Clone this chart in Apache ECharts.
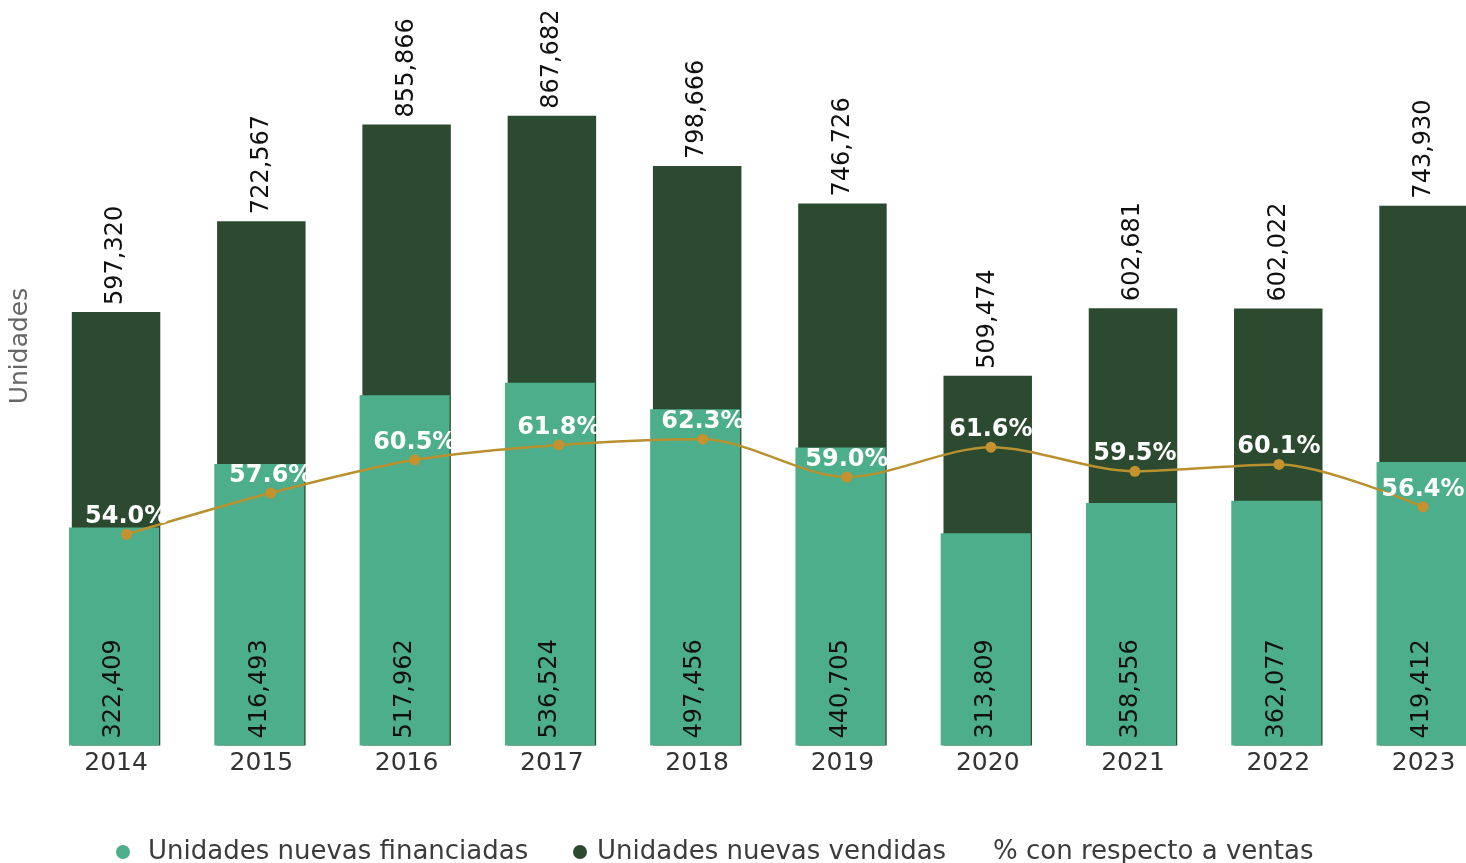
<!DOCTYPE html>
<html>
<head>
<meta charset="utf-8">
<script src="https://cdn.jsdelivr.net/npm/echarts/dist/echarts.min.js"></script>
<style>
html,body{margin:0;padding:0;background:#ffffff;}
#chart{width:1466px;height:863px;}
</style>
</head>
<body>
<div id="chart"></div>
<script>
const categories = ['2014','2015','2016','2017','2018','2019','2020','2021','2022','2023'];
const vendidas = [597320,722567,855866,867682,798666,746726,509474,602681,602022,743930];
const financiadas = [322409,416493,517962,536524,497456,440705,313809,358556,362077,419412];
const porcentaje = [54.0,57.6,60.5,61.8,62.3,59.0,61.6,59.5,60.1,56.4];

const nameFin = 'Unidades nuevas financiadas';
const nameVen = 'Unidades nuevas vendidas';
const namePct = '% con respecto a ventas';

const FONT = 'DejaVu Sans';
const DARK = '#2c4a30';
const LIGHT = '#4cae8a';
const GOLD = '#b8902e';

const chart = echarts.init(document.getElementById('chart'), null, {renderer:'canvas'});
const gTop = 19.8, gH = 725.7;
const fmt = v => Number(v).toLocaleString('en-US');

const option = {
  backgroundColor: '#ffffff',
  animation: false,
  textStyle: {fontFamily: FONT},
  grid: [
    {left: 43.4, width: 1452.8, top: gTop, height: gH, containLabel:false, outerBoundsMode:'none'},
    {left: 41.4, width: 1452.8, top: gTop, height: gH, containLabel:false, outerBoundsMode:'none'},
    {left: 54.7, width: 1440.3, top: gTop, height: gH, containLabel:false, outerBoundsMode:'none'}
  ],
  xAxis: [
    {type:'category', gridIndex:0, data: categories,
     axisLine:{show:false}, axisTick:{show:false},
     axisLabel:{color:'#333333', fontSize:25, fontFamily:FONT, margin:5}},
    {type:'category', gridIndex:1, data: categories, show:false},
    {type:'category', gridIndex:2, data: categories, show:false}
  ],
  yAxis: [
    {type:'value', gridIndex:0, min:0, max:1000000, show:false},
    {type:'value', gridIndex:1, min:0, max:1073520, show:false},
    {type:'value', gridIndex:2, min:35.55, max:98.93, show:false}
  ],
  legend: [
    {left:111, top:834, icon:'circle', itemWidth:40, itemHeight:14,
     data:[nameFin], textStyle:{fontSize:26, color:'#3c3c3c', fontFamily:FONT}},
    {left:568, top:834, icon:'circle', itemWidth:24, itemHeight:14,
     data:[nameVen], textStyle:{fontSize:26, color:'#3c3c3c', fontFamily:FONT}},
    {left:969, top:834, icon:'circle', itemWidth:14, itemHeight:14,
     itemStyle:{color:'rgba(0,0,0,0)', borderWidth:0},
     lineStyle:{opacity:0},
     data:[namePct], textStyle:{fontSize:26, color:'#3c3c3c', fontFamily:FONT}}
  ],
  graphic: [
    {type:'text', x:20, y:346, rotation:Math.PI/2,
     style:{text:'Unidades', fill:'#666666', font:'25px "DejaVu Sans"', textAlign:'center', textVerticalAlign:'middle'}}
  ],
  series: [
    {name:nameVen, type:'bar', xAxisIndex:0, yAxisIndex:0, data:vendidas,
     barWidth:88.5, itemStyle:{color:DARK},
     label:{show:true, position:'top', rotate:90, align:'left', verticalAlign:'middle', distance:7,
            color:'#111111', fontSize:24, fontFamily:FONT, formatter:p=>fmt(p.value)}},
    {name:nameFin, type:'bar', xAxisIndex:1, yAxisIndex:1, data:financiadas,
     barWidth:90, itemStyle:{color:LIGHT},
     label:{show:true, position:'insideBottom', rotate:90, align:'left', verticalAlign:'middle', distance:7,
            color:'#111111', fontSize:24, fontFamily:FONT, formatter:p=>fmt(p.value)}},
    {name:namePct, type:'line', xAxisIndex:2, yAxisIndex:2, data:porcentaje, z:5,
     smooth:0.3, symbol:'circle', symbolSize:11,
     lineStyle:{color:GOLD, width:2.5}, itemStyle:{color:'#c4922e'},
     label:{show:true, position:'top', distance:0, color:'#ffffff', fontSize:24, fontWeight:'bold',
            fontFamily:FONT, formatter:p=>p.value.toFixed(1)+'%'}}
  ]
};
chart.setOption(option);
</script>
</body>
</html>
